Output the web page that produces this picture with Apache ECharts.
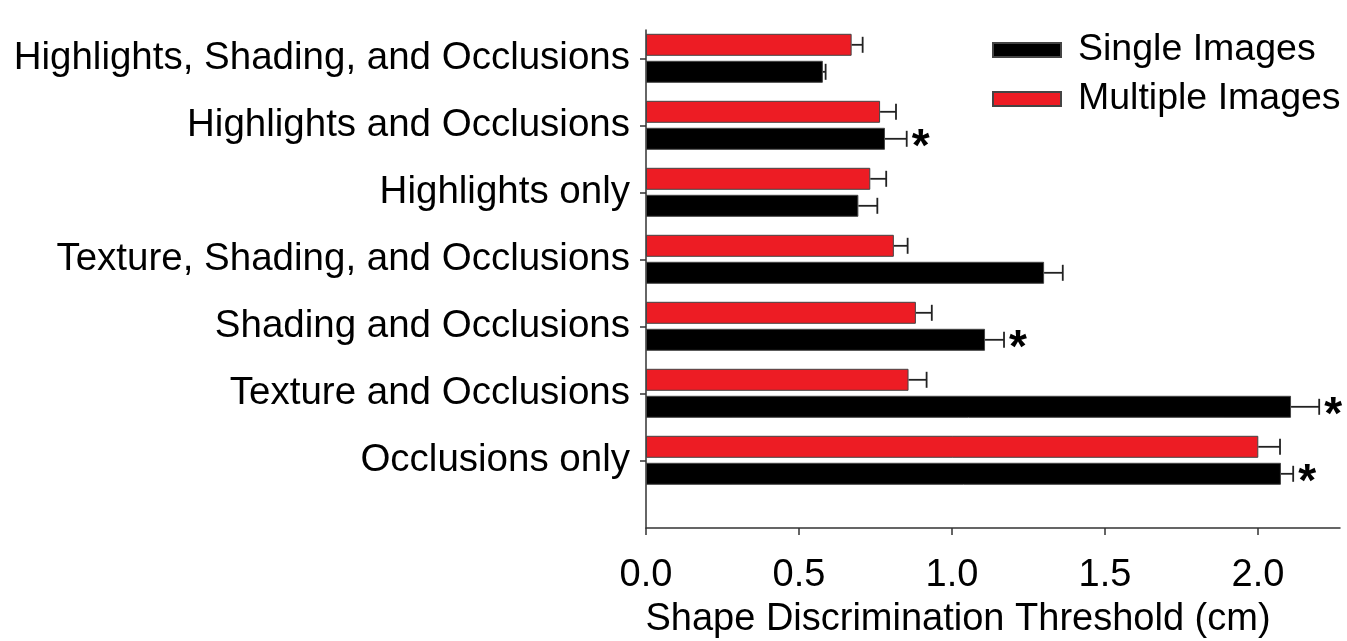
<!DOCTYPE html>
<html>
<head>
<meta charset="utf-8">
<script src="https://cdn.jsdelivr.net/npm/echarts@6/dist/echarts.min.js"></script>
<style>
html,body{margin:0;padding:0;background:#fff;}
#chart{width:1347px;height:641px;}
</style>
</head>
<body>
<div id="chart"></div>
<script>
// ---- data ----
var categories = [
  'Highlights, Shading, and Occlusions',
  'Highlights and Occlusions',
  'Highlights only',
  'Texture, Shading, and Occlusions',
  'Shading and Occlusions',
  'Texture and Occlusions',
  'Occlusions only'
];
var multipleValues = [0.672, 0.765, 0.733, 0.810, 0.882, 0.858, 2.001];
var multipleErrors = [0.036, 0.052, 0.052, 0.045, 0.052, 0.059, 0.071];
var singleValues   = [0.578, 0.781, 0.694, 1.301, 1.108, 2.108, 2.075];
var singleErrors   = [0.009, 0.071, 0.062, 0.061, 0.062, 0.092, 0.040];
var singleSignificant = [false, true, false, false, true, true, true];
var xTickValues = [0, 0.5, 1.0, 1.5, 2.0];
var xMax = 2.268;

var FONT = "'Liberation Sans', Arial, sans-serif";
var BAR_W = 22, BAR_GAP = 5;

function errData(vals, errs, sig) {
  return vals.map(function (v, i) { return [i, v, errs[i], sig ? (sig[i] ? 1 : 0) : 0]; });
}

function makeErrRender(sideSign) {
  return function (params, api) {
    var idx = api.value(0), mean = api.value(1), err = api.value(2), sig = api.value(3);
    var p0 = api.coord([mean, idx]);
    var p1 = api.coord([mean + err, idx]);
    var yc = p0[1] + sideSign * (BAR_W + BAR_GAP) / 2;
    var cap = 8;
    var children = [
      { type: 'line', shape: { x1: p0[0], y1: yc, x2: p1[0], y2: yc }, style: { stroke: '#222', lineWidth: 1.8 } },
      { type: 'line', shape: { x1: p1[0], y1: yc - cap, x2: p1[0], y2: yc + cap }, style: { stroke: '#222', lineWidth: 1.8 } }
    ];
    if (sig) {
      children.push({ type: 'text', x: p1[0] + 5, y: yc + 10,
        style: { text: '*', fontSize: 46, fontWeight: 'bold', fontFamily: FONT, fill: '#000', align: 'left', verticalAlign: 'middle' } });
    }
    return { type: 'group', children: children };
  };
}

var chart = echarts.init(document.getElementById('chart'));
chart.setOption({
  animation: false,
  backgroundColor: '#fff',
  grid: [
    { left: 646, right: 7, top: 24.8, height: 469, outerBoundsMode: 'none', containLabel: false },
    { left: 646, right: 7, top: 30, bottom: 113, outerBoundsMode: 'none', containLabel: false }
  ],
  legend: {
    data: ['Single Images', 'Multiple Images'],
    orient: 'vertical', left: 992, top: 31,
    icon: 'rect',
    itemWidth: 68, itemHeight: 14, itemGap: 11, padding: 0,
    textStyle: { fontSize: 37.5, fontFamily: FONT, color: '#000', padding: [0, 0, 0, 12] }
  },
  xAxis: [
    {
      gridIndex: 0, type: 'value', min: 0, max: xMax, offset: 34.1,
      axisLine: { show: true, lineStyle: { color: '#333', width: 1.5 } },
      axisTick: { show: true, length: 7, lineStyle: { color: '#333', width: 1.5 }, customValues: xTickValues },
      axisLabel: { fontSize: 38, fontFamily: FONT, color: '#000', margin: 29, customValues: xTickValues,
        formatter: function (v) { return v.toFixed(1); } },
      splitLine: { show: false },
      name: 'Shape Discrimination Threshold (cm)', nameLocation: 'middle', nameGap: 73,
      nameTextStyle: { fontSize: 38, fontFamily: FONT, color: '#000', padding: [0, 70, 0, 0] }
    },
    { gridIndex: 1, type: 'value', min: 0, max: 1, show: false }
  ],
  yAxis: [
    {
      gridIndex: 0, type: 'category', data: categories, inverse: true,
      axisLine: { show: false },
      axisTick: { show: true, alignWithLabel: true, length: 6, lineStyle: { color: '#333', width: 1.5 } },
      axisLabel: { fontSize: 38.5, fontFamily: FONT, color: '#000', margin: 16 }
    },
    {
      gridIndex: 1, type: 'value', min: 0, max: 1,
      axisLine: { show: true, lineStyle: { color: '#333', width: 1.5 } },
      axisTick: { show: false }, axisLabel: { show: false }, splitLine: { show: false }
    }
  ],
  series: [
    {
      name: 'Multiple Images', type: 'bar', xAxisIndex: 0, yAxisIndex: 0,
      data: multipleValues, barWidth: BAR_W, barGap: (BAR_GAP / BAR_W * 100) + '%',
      itemStyle: { color: '#ED1C24', borderColor: '#444', borderWidth: 1 }
    },
    {
      name: 'Single Images', type: 'bar', xAxisIndex: 0, yAxisIndex: 0,
      data: singleValues, barWidth: BAR_W, barGap: (BAR_GAP / BAR_W * 100) + '%',
      itemStyle: { color: '#000', borderColor: '#444', borderWidth: 1 }
    },
    {
      name: 'errMultiple', type: 'custom', xAxisIndex: 0, yAxisIndex: 0,
      data: errData(multipleValues, multipleErrors, null),
      encode: { x: 1, y: 0 }, renderItem: makeErrRender(-1), z: 3, silent: true
    },
    {
      name: 'errSingle', type: 'custom', xAxisIndex: 0, yAxisIndex: 0,
      data: errData(singleValues, singleErrors, singleSignificant),
      encode: { x: 1, y: 0 }, renderItem: makeErrRender(1), z: 3, silent: true
    }
  ]
});
</script>
</body>
</html>
